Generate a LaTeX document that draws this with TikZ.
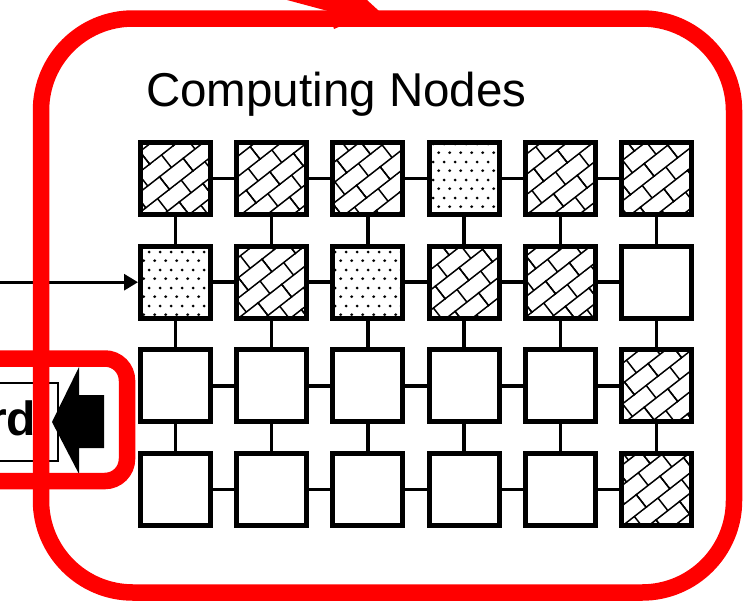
\documentclass[tikz,border=0pt]{standalone}
\usepackage{fontspec}
\setmainfont{Liberation Sans}
\usetikzlibrary{arrows.meta,patterns.meta}

% diagonal brick hatching
\pgfdeclarepattern{
  name=brickdiag,
  type=uncolored,
  bottom left={\pgfpoint{-1pt}{-1pt}},
  top right={\pgfpoint{31pt}{33pt}},
  tile size={\pgfpoint{30pt}{32pt}},
  tile transformation={\pgftransformrotate{38}},
  code={
    \pgfsetlinewidth{1.5pt}
    \pgfpathmoveto{\pgfpoint{-1pt}{0pt}}\pgfpathlineto{\pgfpoint{31pt}{0pt}}
    \pgfpathmoveto{\pgfpoint{-1pt}{16pt}}\pgfpathlineto{\pgfpoint{31pt}{16pt}}
    \pgfpathmoveto{\pgfpoint{0pt}{0pt}}\pgfpathlineto{\pgfpoint{0pt}{16pt}}
    \pgfpathmoveto{\pgfpoint{30pt}{0pt}}\pgfpathlineto{\pgfpoint{30pt}{16pt}}
    \pgfpathmoveto{\pgfpoint{15pt}{16pt}}\pgfpathlineto{\pgfpoint{15pt}{32pt}}
    \pgfusepath{stroke}
  }
}

% sparse staggered dots
\pgfdeclarepattern{
  name=sparsedots,
  type=uncolored,
  bottom left={\pgfpoint{0pt}{0pt}},
  top right={\pgfpoint{10.9pt}{18pt}},
  tile size={\pgfpoint{10.9pt}{18pt}},
  code={
    \pgfpathcircle{\pgfpoint{2.7pt}{4.5pt}}{1.55pt}
    \pgfpathcircle{\pgfpoint{8.15pt}{13.5pt}}{1.55pt}
    \pgfusepath{fill}
  }
}

\definecolor{ringred}{RGB}{255,0,0}

\tikzset{
  cell/.style={draw, line width=5pt, minimum width=70pt, minimum height=72pt, inner sep=0pt},
  fillB/.style={pattern=brickdiag},
  fillD/.style={pattern=sparsedots},
  fillW/.style={},
  link/.style={line width=3.5pt},
  feed/.style={line width=3pt, -{Triangle[length=14pt,width=16pt]}},
  ring/.style={draw=ringred, line width=16.5pt},
}

\begin{document}
\begin{tikzpicture}[x=1pt,y=-1pt]
\useasboundingbox (0,0) rectangle (743,606);
\clip (0,0) rectangle (743,606);

% title of the node array
\node[anchor=base west, inner sep=0pt, font=\fontsize{47.5}{50}\selectfont] (title) at (146,106) {Computing Nodes};

% 4 x 6 array of computing nodes
\foreach \p [count=\k from 0] in {B,B,B,D,B,B, D,B,D,B,B,W, W,W,W,W,W,B, W,W,W,W,W,B}{
  \pgfmathtruncatemacro\r{div(\k,6)+1}
  \pgfmathtruncatemacro\c{mod(\k,6)+1}
  \node[cell, fill\p] (c-\r-\c) at ({175.5+96.2*(\c-1)}, {178.5+103.7*(\r-1)}) {};
}

% mesh links
\foreach \r in {1,...,4}{
  \foreach \c [evaluate=\c as \n using int(\c+1)] in {1,...,5}{
    \draw[link] (c-\r-\c) -- (c-\r-\n);
  }
}
\foreach \r [evaluate=\r as \n using int(\r+1)] in {1,2,3}{
  \foreach \c in {1,...,6}{
    \draw[link] (c-\r-\c) -- (c-\n-\c);
  }
}

% input line into the array
\coordinate (in0) at (-5,282.2);
\draw[feed] (in0) -- (c-2-1.west);

% board box and its label
\draw[line width=1.3pt] (-20,383) rectangle (58,461);
\node[anchor=base east, inner sep=0pt, font=\bfseries\fontsize{48}{50}\selectfont] (board) at (36.5,435) {rd};

% block arrow pointing to the board
\fill (52,422) -- (79,367) -- (79,395) -- (104,395) -- (104,448) -- (79,448) -- (79,474) -- cycle;

% red outlines
\draw[ring, rounded corners=22pt] (-40,358.5) rectangle (127,481);
\draw[ring, rounded corners=92pt] (41,18.5) rectangle (734,592.5);

% red arrow entering at the top
\fill[ringred] (287,0) -- (328,11) -- (334,29) -- (355,20) -- (379,11) -- (367,0) -- cycle;
\end{tikzpicture}
\end{document}
